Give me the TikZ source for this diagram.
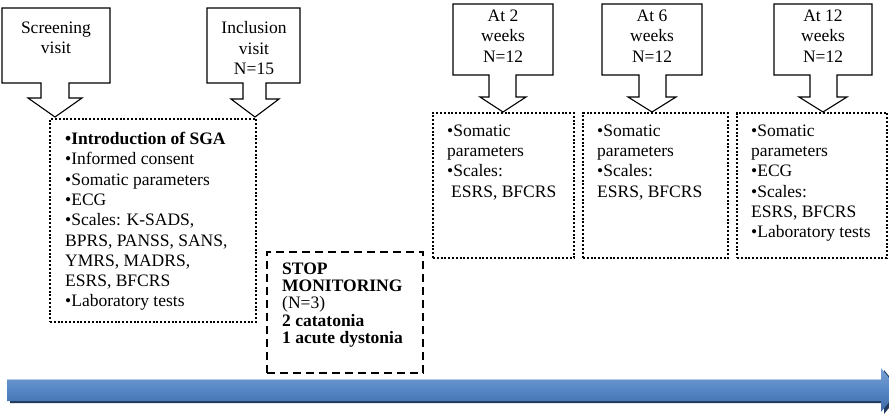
\documentclass[tikz,border=0pt]{standalone}
\usepackage{fontspec}
\setmainfont{Liberation Serif}
\definecolor{arrtop}{HTML}{7AA2D6}
\definecolor{arrmid}{HTML}{5585C4}
\definecolor{arrbot}{HTML}{3D6AA6}
\definecolor{arrshadow}{HTML}{203A5C}
\begin{document}
\begin{tikzpicture}[x=1pt,y=-1pt,
 co/.style={draw=black,line width=1.1pt,fill=white,line join=miter},
 dotbox/.style={draw=black,line width=2pt,dash pattern=on 2pt off 1.8pt,inner sep=0,outer sep=0,anchor=north west},
 dashbox/.style={draw=black,line width=1.3pt,dash pattern=on 8pt off 5pt,inner sep=0,outer sep=0,anchor=north west},
 txt/.style={font=\fontsize{17.5}{20.3}\selectfont,align=left,inner sep=0,anchor=north west},
 ctxt/.style={font=\fontsize{17.5}{20.5}\selectfont,align=center,inner sep=0,anchor=north}]
\useasboundingbox (0,0) rectangle (889,413);

% timeline arrow
\begin{scope}
\clip (0,0) rectangle (889,413);
\fill[arrshadow] (10,381) -- (884,381) -- (884,370) -- (902,392) -- (884,414) -- (884,403) -- (10,403) -- cycle;
\shade[top color=arrtop,bottom color=arrbot,middle color=arrmid]
  (7,379) -- (881,379) -- (881,368) -- (899,390) -- (881,412) -- (881,401) -- (7,401) -- cycle;
\draw[white,opacity=0.5,line width=0.6pt] (7,379.3) -- (881,379.3);
\end{scope}

% callouts
\draw[co] (2,8) -- (110,8) -- (110,83) -- (69,83) -- (69,98) -- (82,98) -- (55,117) -- (28,98) -- (41,98) -- (41,83) -- (2,83) -- cycle;
\node[ctxt] (scr) at (56,21.5) {Screening\\visit};

\draw[co] (207,8) -- (300,8) -- (300,83) -- (266,83) -- (266,99) -- (279,99) -- (255,117) -- (231,99) -- (243,99) -- (243,83) -- (207,83) -- cycle;
\node[ctxt] (inc) at (254,21.5) {Inclusion\\visit\\N=15};

\draw[co] (453,4) -- (553,4) -- (553,75) -- (516,75) -- (516,97) -- (526,97) -- (503,112) -- (480,97) -- (489,97) -- (489,75) -- (453,75) -- cycle;
\node[ctxt] (w2) at (503,9.5) {At 2\\weeks\\N=12};

\draw[co] (602,4) -- (702,4) -- (702,75) -- (666,75) -- (666,97) -- (676,97) -- (652,112) -- (628,97) -- (639,97) -- (639,75) -- (602,75) -- cycle;
\node[ctxt] (w6) at (652,9.5) {At 6\\weeks\\N=12};

\draw[co] (774,4) -- (872,4) -- (872,75) -- (837,75) -- (837,97) -- (847,97) -- (823,112) -- (799,97) -- (810,97) -- (810,75) -- (774,75) -- cycle;
\node[ctxt] (w12) at (823,9.5) {At 12\\weeks\\N=12};

% boxes
\node[dotbox,minimum width=206pt,minimum height=203pt] (main) at (50,119) {};
\node[txt] (maint) at ([xshift=15pt,yshift=-13pt]main.north west)
 {\textbf{\textbullet Introduction of SGA}\\
  \textbullet Informed consent\\
  \textbullet Somatic parameters\\
  \textbullet ECG\\
  \textbullet Scales: K-SADS,\\
  BPRS, PANSS, SANS,\\
  YMRS, MADRS,\\
  ESRS, BFCRS\\
  \textbullet Laboratory tests};

\node[dashbox,minimum width=156pt,minimum height=121pt] (stop) at (267,252) {};
\node[txt,font=\fontsize{17.5}{17.3}\selectfont] (stopt) at ([xshift=15pt,yshift=-10.5pt]stop.north west)
 {\textbf{STOP}\\
  \textbf{MONITORING}\\
  (N=3)\\
  \textbf{2 catatonia}\\
  \textbf{1 acute dystonia}};

\node[dotbox,minimum width=141pt,minimum height=145pt] (b1) at (433,113) {};
\node[txt] (b1t) at ([xshift=14pt,yshift=-11.5pt]b1.north west)
 {\textbullet Somatic\\parameters\\\textbullet Scales:\\\hspace{4pt}ESRS, BFCRS};

\node[dotbox,minimum width=145pt,minimum height=145pt] (b2) at (583,113) {};
\node[txt] (b2t) at ([xshift=14pt,yshift=-11.5pt]b2.north west)
 {\textbullet Somatic\\parameters\\\textbullet Scales:\\ESRS, BFCRS};

\node[dotbox,minimum width=150pt,minimum height=145pt] (b3) at (737,113) {};
\node[txt] (b3t) at ([xshift=14pt,yshift=-11.5pt]b3.north west)
 {\textbullet Somatic\\parameters\\\textbullet ECG\\\textbullet Scales:\\ESRS, BFCRS\\\textbullet Laboratory tests};
\end{tikzpicture}
\end{document}
